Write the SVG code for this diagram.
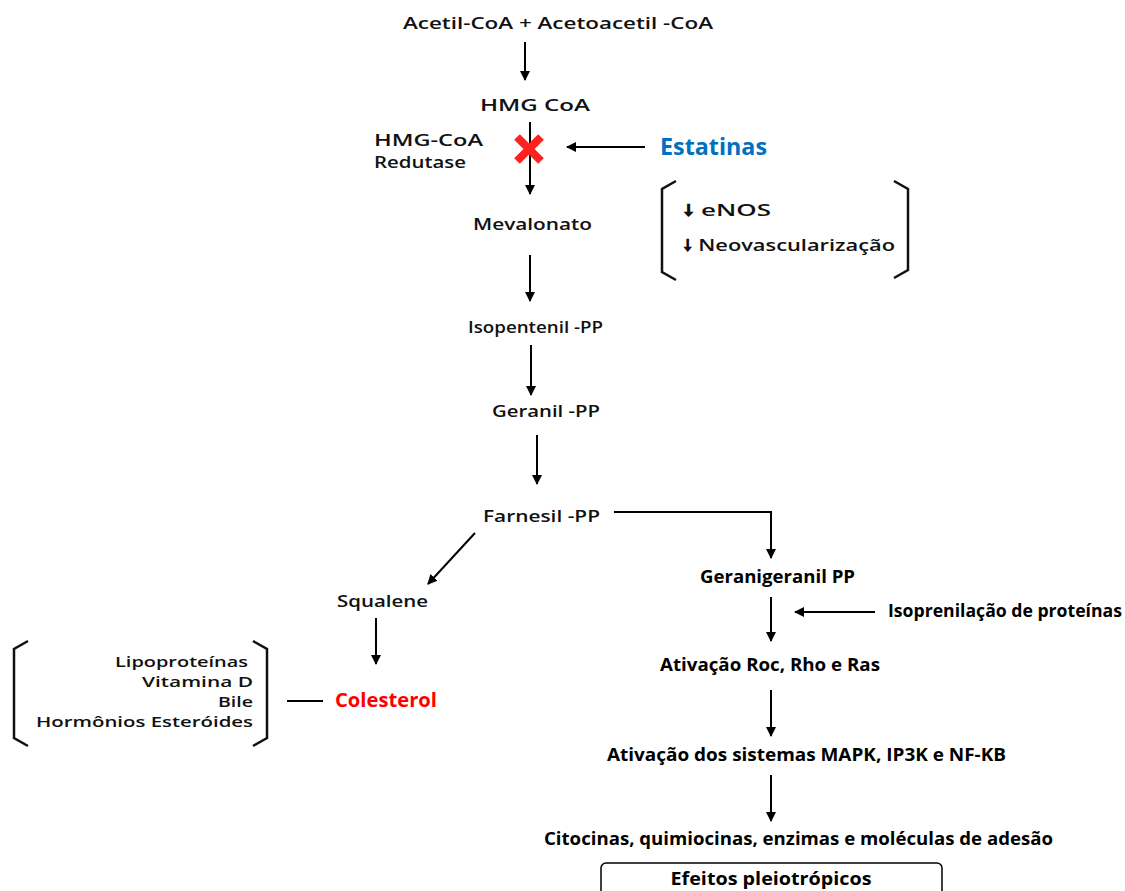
<svg xmlns="http://www.w3.org/2000/svg" width="1125" height="891" viewBox="0 0 1125 891">
<defs>
<marker id="ah" markerWidth="10" markerHeight="10" refX="9" refY="5" orient="auto" markerUnits="userSpaceOnUse">
<path d="M0,0 L10,5 L0,10 Z" fill="#000"/>
</marker>
<style>
.a{font-family:"Open Sans","DejaVu Sans",sans-serif;font-weight:600;font-size:16px;fill:#111}
.c{font-family:"Open Sans","DejaVu Sans",sans-serif;font-weight:600;font-size:15px;fill:#111}
.b{font-family:"Open Sans","DejaVu Sans",sans-serif;font-weight:700;font-size:17px;fill:#000}
.ln{stroke:#000;stroke-width:2;fill:none}
.br{stroke:#111;stroke-width:2.5;fill:none}
</style>
</defs>
<rect width="1125" height="891" fill="#fff"/>
<g id="connectors">
<line class="ln" x1="525" y1="42" x2="525" y2="80" marker-end="url(#ah)"/>
<line class="ln" x1="530" y1="122" x2="530" y2="194" marker-end="url(#ah)"/>
<line class="ln" x1="645" y1="147" x2="567" y2="147" marker-end="url(#ah)"/>
<line class="ln" x1="530" y1="255" x2="530" y2="301" marker-end="url(#ah)"/>
<line class="ln" x1="531" y1="345" x2="531" y2="395" marker-end="url(#ah)"/>
<line class="ln" x1="537" y1="435" x2="537" y2="484" marker-end="url(#ah)"/>
<polyline class="ln" points="614,512 771,512 771,558" marker-end="url(#ah)"/>
<line class="ln" x1="475" y1="533" x2="428" y2="584" marker-end="url(#ah)"/>
<line class="ln" x1="376" y1="618" x2="376" y2="664" marker-end="url(#ah)"/>
<line class="ln" x1="287" y1="701" x2="323" y2="701"/>
<line class="ln" x1="771" y1="597" x2="771" y2="641" marker-end="url(#ah)"/>
<line class="ln" x1="875" y1="612" x2="795" y2="612" marker-end="url(#ah)"/>
<line class="ln" x1="771" y1="690" x2="771" y2="736" marker-end="url(#ah)"/>
<line class="ln" x1="771" y1="775" x2="771" y2="821" marker-end="url(#ah)"/>
</g>
<g id="n-acetil"><text class="a" x="403" y="29" textLength="310" lengthAdjust="spacingAndGlyphs">Acetil-CoA + Acetoacetil -CoA</text></g>
<g id="n-hmgcoa"><text class="a" x="480" y="111" textLength="110" lengthAdjust="spacingAndGlyphs">HMG  CoA</text></g>
<g id="n-redutase">
<text class="a" x="374" y="146" textLength="109" lengthAdjust="spacingAndGlyphs">HMG-CoA</text>
<text class="a" x="374" y="168" textLength="92" lengthAdjust="spacingAndGlyphs">Redutase</text>
</g>
<g id="n-x"><path d="M517,137 L541,161 M541,137 L517,161" stroke="#ff2020" stroke-width="8" stroke-linecap="butt"/></g>
<g id="n-estatinas"><text x="660" y="155" font-family="'Open Sans','DejaVu Sans',sans-serif" font-weight="700" font-size="23" fill="#0070C0" textLength="107" lengthAdjust="spacingAndGlyphs">Estatinas</text></g>
<g id="n-enos">
<path class="br" d="M676,181 L662,189 L662,272 L676,280"/>
<path class="br" d="M894,181 L908,189 L908,270 L894,278"/>
<text class="a" x="683" y="216" textLength="88" lengthAdjust="spacingAndGlyphs">🠗 eNOS</text>
<text class="a" x="683" y="251" textLength="212" lengthAdjust="spacingAndGlyphs">🠗 Neovascularização</text>
</g>
<g id="n-mevalonato"><text class="a" x="473" y="230" textLength="119" lengthAdjust="spacingAndGlyphs">Mevalonato</text></g>
<g id="n-isopentenil"><text class="a" x="468" y="333" textLength="135" lengthAdjust="spacingAndGlyphs">Isopentenil -PP</text></g>
<g id="n-geranil"><text class="a" x="492" y="417" textLength="108" lengthAdjust="spacingAndGlyphs">Geranil -PP</text></g>
<g id="n-farnesil"><text class="a" x="483" y="522" textLength="117" lengthAdjust="spacingAndGlyphs">Farnesil -PP</text></g>
<g id="n-squalene"><text class="a" x="337" y="607" textLength="91" lengthAdjust="spacingAndGlyphs">Squalene</text></g>
<g id="n-colesterol"><text x="335" y="707" font-family="'Open Sans','DejaVu Sans',sans-serif" font-weight="700" font-size="19" fill="#ff0000" textLength="102" lengthAdjust="spacingAndGlyphs">Colesterol</text></g>
<g id="n-derivados">
<path class="br" d="M28,641 L14,649 L14,738 L28,746"/>
<path class="br" d="M253,641 L267,649 L267,738 L253,746"/>
<text class="c" x="115" y="667" textLength="133" lengthAdjust="spacingAndGlyphs">Lipoproteínas</text>
<text class="c" x="142" y="687" textLength="111" lengthAdjust="spacingAndGlyphs">Vitamina D</text>
<text class="c" x="218" y="707" textLength="35" lengthAdjust="spacingAndGlyphs">Bile</text>
<text class="c" x="36" y="727" textLength="217" lengthAdjust="spacingAndGlyphs">Hormônios Esteróides</text>
</g>
<g id="n-geranigeranil"><text class="b" x="700" y="583" textLength="155" lengthAdjust="spacingAndGlyphs">Geranigeranil PP</text></g>
<g id="n-isoprenilacao"><text class="b" x="888" y="617" textLength="234" lengthAdjust="spacingAndGlyphs">Isoprenilação de proteínas</text></g>
<g id="n-ativacao-roc"><text class="b" x="660" y="671" textLength="220" lengthAdjust="spacingAndGlyphs">Ativação Roc, Rho e Ras</text></g>
<g id="n-ativacao-mapk"><text class="b" x="607" y="761" textLength="399" lengthAdjust="spacingAndGlyphs">Ativação dos sistemas MAPK, IP3K e NF-KB</text></g>
<g id="n-citocinas"><text class="b" x="544" y="845" textLength="509" lengthAdjust="spacingAndGlyphs">Citocinas, quimiocinas, enzimas e moléculas de adesão</text></g>
<g id="n-efeitos">
<rect x="601" y="863" width="341" height="40" rx="5" fill="#fff" stroke="#000" stroke-width="1.5"/>
<text x="771" y="885" text-anchor="middle" font-family="'Open Sans','DejaVu Sans',sans-serif" font-weight="700" font-size="18" fill="#000" textLength="201" lengthAdjust="spacingAndGlyphs">Efeitos pleiotrópicos</text>
</g>
</svg>
